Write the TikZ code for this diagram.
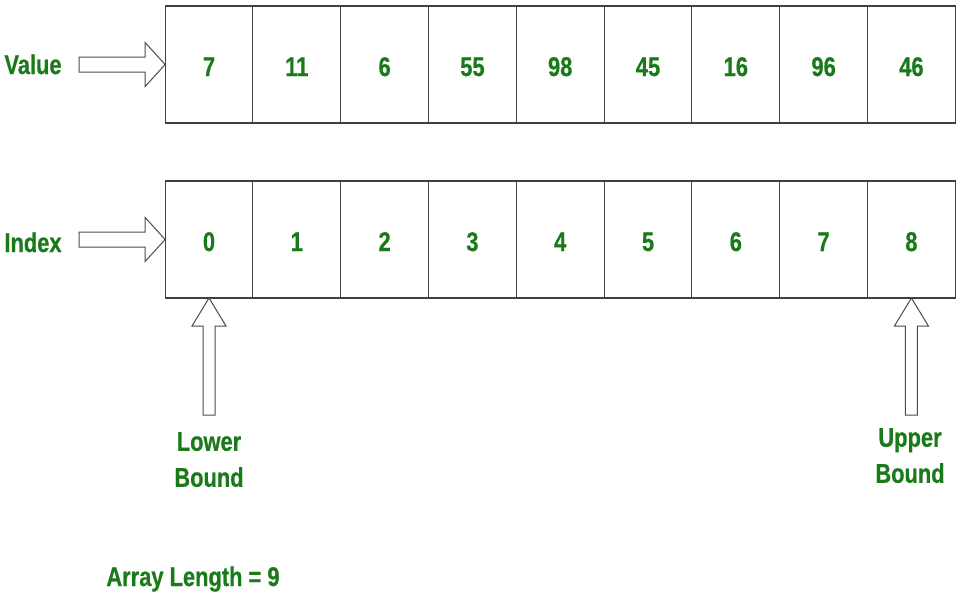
\documentclass[tikz,border=0pt]{standalone}
\usepackage{fontspec}
\newfontfamily\labelfont[FakeStretch=0.81, BoldFeatures={FakeBold=0.6}]{Liberation Sans}
\usetikzlibrary{positioning}
\definecolor{valgreen}{RGB}{26,122,26}

\tikzset{
    cell/.style={draw=black!75, line width=1.1pt, minimum width=87.8pt, minimum height=117pt,
                 inner sep=0pt, outer sep=0pt, text height=23pt, text depth=0pt,
                 text=valgreen, font=\labelfont\bfseries\fontsize{27}{30}\selectfont},
    tag/.style={inner sep=0pt, text=valgreen, align=center, font=\labelfont\bfseries\fontsize{27}{36}\selectfont},
    hollow/.style={draw=black!70, line width=1pt, fill=white, line join=miter},
}

% hollow arrows, tip at the given point
\newcommand{\pointright}[1]{\draw[hollow] (#1) -- ++(-20,-22) -- ++(0,14.5) -- ++(-66,0) -- ++(0,15) -- ++(66,0) -- ++(0,14.5) -- cycle;}
\newcommand{\pointup}[1]{\draw[hollow] (#1) -- ++(17,28) -- ++(-11,0) -- ++(0,89) -- ++(-12,0) -- ++(0,-89) -- ++(-11,0) -- cycle;}

\begin{document}
\begin{tikzpicture}[x=1pt, y=-1pt]
    \useasboundingbox (0,0) rectangle (960,600);

    % the two rows
    \foreach \v [count=\i from 0] in {7,11,6,55,98,45,16,96,46}
        \node[cell] (v\i) at ({209+87.8*\i},64.5) {\v};
    \foreach \i in {0,...,8}
        \node[cell] (i\i) at ({209+87.8*\i},239.5) {\i};

    % row labels
    \node[tag, anchor=base] (value) at (33,74) {Value};
    \node[tag, anchor=base] (index) at (33,252) {Index};
    \pointright{v0.west}
    \pointright{i0.west}

    % bounds
    \pointup{i0.south}
    \pointup{i8.south}
    \node[tag, anchor=north] (lower) at (209,432) {Lower\\Bound};
    \node[tag, anchor=north] (upper) at (910,428) {Upper\\Bound};

    \node[tag, anchor=base] (length) at (193,586) {Array Length = 9};
\end{tikzpicture}
\end{document}
